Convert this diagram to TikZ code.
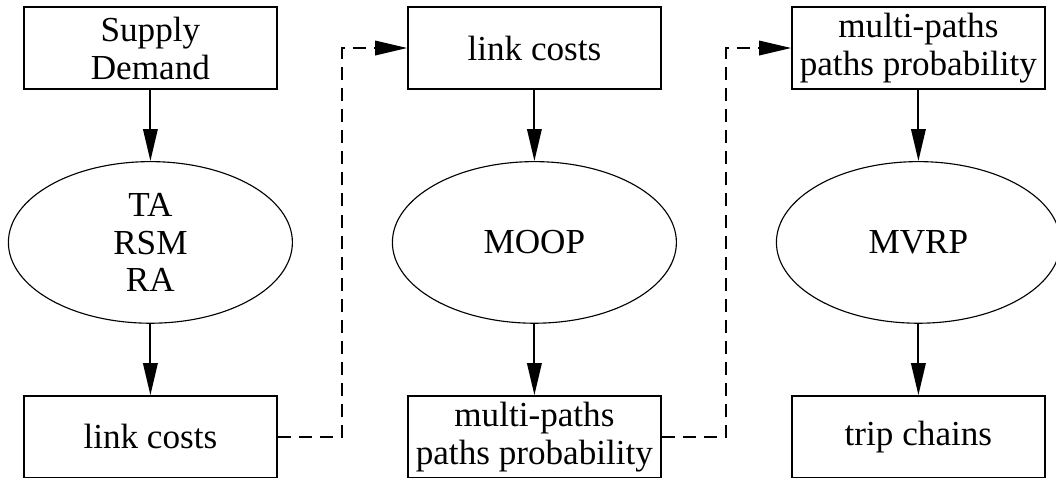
\documentclass[tikz,border=0pt]{standalone}
\usepackage{fontspec}
\setmainfont{Liberation Serif}
\usetikzlibrary{positioning,shapes.geometric,arrows.meta,calc}

\begin{document}
\begin{tikzpicture}[
  node distance=2.43cm,
  font=\fontsize{12.5}{13.5}\selectfont,
  data/.style={rectangle, draw, line width=0.55pt, align=center, minimum width=3.16cm, minimum height=1.02cm, inner sep=0.05cm},
  model/.style={ellipse, draw, align=center, minimum width=3.55cm, minimum height=2.02cm, inner sep=0pt},
  flow/.style={->, >={Triangle[length=4mm, width=1.8mm]}, line width=0.75pt},
  feed/.style={flow, dash pattern=on 4.6pt off 2.9pt}
]
  \useasboundingbox (0,0) rectangle (13.2,-5.99);

  \node[data] (demand) at (1.88,-0.6) {Supply\\Demand};
  \node[model, below of=demand] (tsa) {TA\\RSM\\RA};
  \node[data, below of=tsa] (costsA) {link costs};

  \node[data, right of=demand, xshift=2.37cm] (costsB) {link costs};
  \node[model, below of=costsB] (moop) {MOOP};
  \node[data, below of=moop] (pathsA) {multi-paths\\paths probability};

  \node[data, right of=costsB, xshift=2.37cm] (pathsB) {multi-paths\\paths probability};
  \node[model, below of=pathsB] (mvrp) {MVRP};
  \node[data, below of=mvrp] (trips) {trip chains};

  \draw[flow] (demand) -- (tsa);
  \draw[flow] (tsa) -- (costsA);
  \draw[flow] (costsB) -- (moop);
  \draw[flow] (moop) -- (pathsA);
  \draw[flow] (pathsB) -- (mvrp);
  \draw[flow] (mvrp) -- (trips);

  % hand-over between the stages
  \coordinate (hop1) at ($(costsA.east)!.5!(costsB.west)$);
  \coordinate (hop2) at ($(pathsA.east)!.5!(pathsB.west)$);
  \draw[feed] (costsA.east) -| (hop1) |- (costsB.west);
  \draw[feed] (pathsA.east) -| (hop2) |- (pathsB.west);
\end{tikzpicture}
\end{document}
